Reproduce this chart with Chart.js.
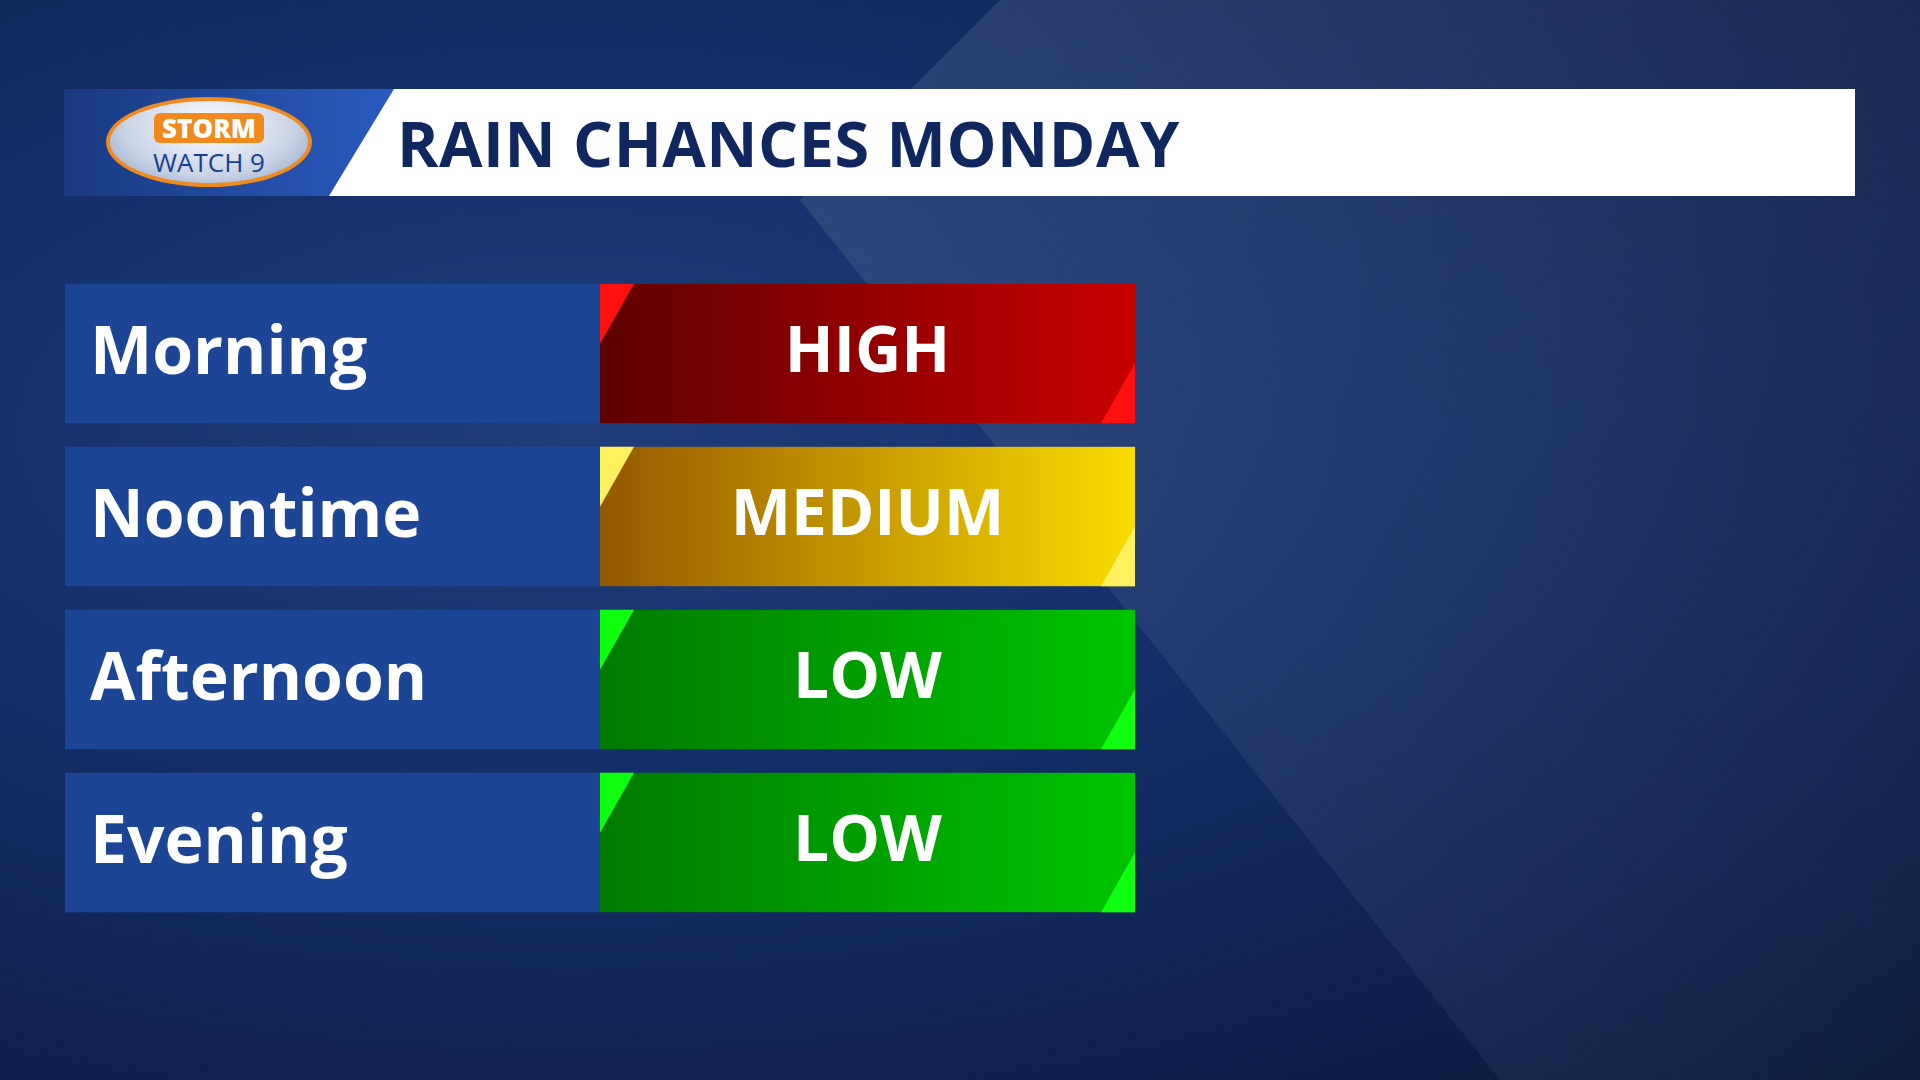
<!DOCTYPE html>
<html lang="en">
<head>
<meta charset="UTF-8">
<title>Rain Chances Monday</title>
<script src="https://cdn.jsdelivr.net/npm/chart.js"></script>
<style>
    body {
        margin: 0;
        width: 1920px;
        height: 1080px;
        overflow: hidden;
        font-family: "Open Sans", sans-serif;
        background: radial-gradient(ellipse at 30% 40%, #1f3f7a 0%, #14306a 35%, #0f2250 70%, #0a1838 100%);
        position: relative;
    }
    /* lighter diagonal panel in the background */
    #panel {
        position: absolute; left: 800px; top: 0; width: 1120px; height: 1080px;
        background: linear-gradient(120deg, rgba(90,110,150,0.35), rgba(40,60,100,0.15));
        clip-path: polygon(200px 0, 1120px 0, 1120px 1080px, 700px 1080px, 0 200px);
    }
    #banner {
        position: absolute; left: 64px; top: 89px; width: 1791px; height: 107px;
        background: #fff;
    }
    #logoBox {
        position: absolute; left: 0; top: 0; width: 330px; height: 107px;
        background: linear-gradient(90deg, #1a3a80, #2a5ac0);
        clip-path: polygon(0 0, 330px 0, 265px 107px, 0 107px);
    }
    #logo {
        position: absolute; left: 42px; top: 8px; width: 206px; height: 90px;
        border-radius: 50%;
        background: radial-gradient(ellipse at 50% 30%, #ffffff 0%, #c9d4e8 60%, #8b9bbb 100%);
        border: 4px solid #f08a1c;
        box-sizing: border-box;
        text-align: center; line-height: 30px;
        font-weight: 800; color: #1b3f8f;
    }
    #logo .s { display:inline-block; margin-top: 12px; background:#f08a1c; color:#fff; padding:0 8px; border-radius: 6px; font-size: 26px; }
    #logo .w { display:block; font-size: 26px; font-weight: 400; }
    #title {
        position: absolute; left: 333px; top: 0; line-height: 107px;
        font-size: 63px; font-weight: 700; color: #10265e; letter-spacing: 0.5px;
    }
    #chartWrap { position: absolute; left: 65px; top: 272px; width: 1070px; height: 652px; }
</style>
</head>
<body>
<div id="panel"></div>
<div id="banner">
    <div id="logoBox"><div id="logo"><span class="s">STORM</span><span class="w">WATCH 9</span></div></div>
    <div id="title">RAIN CHANCES MONDAY</div>
</div>
<div id="chartWrap"><canvas id="rainChart" width="1070" height="652"></canvas></div>

<script>
    // chart data
    const periods = ['Morning', 'Noontime', 'Afternoon', 'Evening'];
    const chances = ['HIGH', 'MEDIUM', 'LOW', 'LOW'];
    const labelShare = [1, 1, 1, 1];
    const chanceShare = [1, 1, 1, 1];

    const palette = {
        HIGH:   { from: '#5e0000', to: '#c80000', corner: '#ff1010' },
        MEDIUM: { from: '#955800', to: '#f8dc00', corner: '#fff060' },
        LOW:    { from: '#007a00', to: '#00c400', corner: '#10ff10' }
    };

    // draws gradients, corner flashes and the text
    const tilePlugin = {
        id: 'tiles',
        afterDatasetsDraw(chart) {
            const c = chart.ctx;
            const labelBars = chart.getDatasetMeta(0).data;
            const chanceBars = chart.getDatasetMeta(1).data;
            chanceBars.forEach((bar, i) => {
                const p = palette[chances[i]];
                const x0 = bar.base, x1 = bar.x;
                const y0 = bar.y - bar.height / 2, y1 = bar.y + bar.height / 2;
                const g = c.createLinearGradient(x0, 0, x1, 0);
                g.addColorStop(0, p.from);
                g.addColorStop(1, p.to);
                c.save();
                c.fillStyle = g;
                c.fillRect(x0, y0, x1 - x0, y1 - y0);
                c.fillStyle = p.corner;
                c.beginPath();
                c.moveTo(x0, y0); c.lineTo(x0 + 34, y0); c.lineTo(x0, y0 + 60); c.closePath(); c.fill();
                c.beginPath();
                c.moveTo(x1, y1); c.lineTo(x1 - 34, y1); c.lineTo(x1, y1 - 60); c.closePath(); c.fill();
                c.fillStyle = '#fff';
                c.font = '700 64px "Open Sans"';
                c.textAlign = 'center';
                c.textBaseline = 'middle';
                c.fillText(chances[i], (x0 + x1) / 2, bar.y);
                const lb = labelBars[i];
                c.textAlign = 'left';
                c.font = '700 66px "Open Sans"';
                c.fillText(periods[i], lb.base + 25, bar.y + 2);
                c.restore();
            });
        }
    };

    new Chart(document.getElementById('rainChart'), {
        type: 'bar',
        data: {
            labels: periods,
            datasets: [
                { data: labelShare, backgroundColor: '#1d4596' },
                { data: chanceShare, backgroundColor: 'rgba(0,0,0,0)' }
            ]
        },
        options: {
            indexAxis: 'y',
            responsive: false,
            animation: false,
            maintainAspectRatio: false,
            layout: { padding: 0 },
            datasets: { bar: { barPercentage: 0.855, categoryPercentage: 1, borderWidth: 0 } },
            scales: {
                x: { stacked: true, min: 0, max: 2, display: false },
                y: { stacked: true, display: false }
            },
            plugins: { legend: { display: false }, tooltip: { enabled: false } }
        },
        plugins: [tilePlugin]
    });
</script>
</body>
</html>
